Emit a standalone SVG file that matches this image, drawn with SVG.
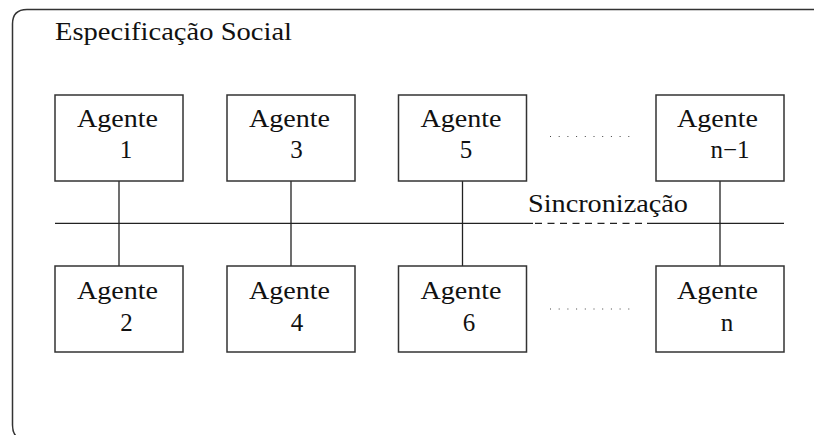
<svg xmlns="http://www.w3.org/2000/svg" width="814" height="435" viewBox="0 0 814 435">
<style>
.frame{fill:none;stroke:#333;stroke-width:1.5}
.box{fill:#fff;stroke:#333;stroke-width:1.5}
.ln{fill:none;stroke:#222;stroke-width:1.3}
text{font-family:'Liberation Serif','DejaVu Serif',serif;font-size:25px;fill:#111}
.dots{fill:none;stroke:#444;stroke-width:1;stroke-dasharray:1 7.7}
</style>
<rect width="814" height="435" fill="#fff"/>
<path class="frame" d="M814,9.5 H27 Q12.5,9.5 12.5,24 V425 Q12.5,440 27,440 H814"/>
<text x="55" y="40" font-size="28" textLength="237" lengthAdjust="spacingAndGlyphs">Especificação Social</text>
<g id="connectors">
<path class="ln" d="M55,223.3 H533 M647,223.3 H784"/>
<path class="ln" d="M535,223.3 H647" stroke-dasharray="7 5.5"/>
<path class="ln" d="M119,181 V266 M291,181 V266 M462.5,181 V266 M720,181 V266"/>
<path class="dots" d="M550,136.5 H630"/>
<path class="dots" d="M550,309 H632"/>
</g>
<text id="sync" x="528" y="211.7" textLength="160" lengthAdjust="spacingAndGlyphs">Sincronização</text>
<g id="agente1"><rect class="box" x="55" y="95" width="128" height="86"/><text x="77" y="127" textLength="81" lengthAdjust="spacingAndGlyphs">Agente</text><text x="126" y="158.3" text-anchor="middle">1</text></g>
<g id="agente3"><rect class="box" x="227" y="95" width="128" height="86"/><text x="249" y="127" textLength="81" lengthAdjust="spacingAndGlyphs">Agente</text><text x="296.5" y="158.3" text-anchor="middle">3</text></g>
<g id="agente5"><rect class="box" x="398.5" y="95" width="128" height="86"/><text x="420.5" y="127" textLength="81" lengthAdjust="spacingAndGlyphs">Agente</text><text x="466" y="158.3" text-anchor="middle">5</text></g>
<g id="agenteN1"><rect class="box" x="656" y="95" width="128" height="86"/><text x="677" y="127" textLength="81" lengthAdjust="spacingAndGlyphs">Agente</text><text x="730" y="158.3" text-anchor="middle">n−1</text></g>
<g id="agente2"><rect class="box" x="55" y="266" width="128" height="86"/><text x="77" y="299.3" textLength="81" lengthAdjust="spacingAndGlyphs">Agente</text><text x="126.5" y="331" text-anchor="middle">2</text></g>
<g id="agente4"><rect class="box" x="227" y="266" width="128" height="86"/><text x="249" y="299.3" textLength="81" lengthAdjust="spacingAndGlyphs">Agente</text><text x="297" y="331" text-anchor="middle">4</text></g>
<g id="agente6"><rect class="box" x="398.5" y="266" width="128" height="86"/><text x="420.5" y="299.3" textLength="81" lengthAdjust="spacingAndGlyphs">Agente</text><text x="469" y="331" text-anchor="middle">6</text></g>
<g id="agenteN"><rect class="box" x="656" y="266" width="128" height="86"/><text x="677" y="299.3" textLength="81" lengthAdjust="spacingAndGlyphs">Agente</text><text x="727" y="331" text-anchor="middle">n</text></g>
</svg>
